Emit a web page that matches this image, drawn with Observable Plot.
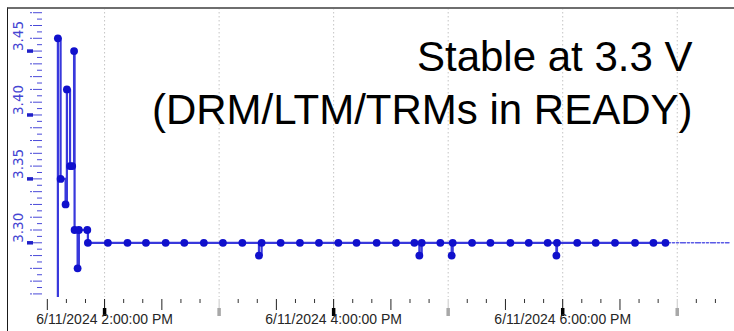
<!DOCTYPE html>
<html>
<head>
<meta charset="utf-8">
<script src="https://cdn.jsdelivr.net/npm/d3@7"></script>
<script src="https://cdn.jsdelivr.net/npm/@observablehq/plot@0.6"></script>
<style>
  html, body { margin: 0; padding: 0; background: #fff; }
  #wrap { position: relative; width: 734px; height: 331px; overflow: hidden; }
  #border { position: absolute; left: 6.5px; top: 7px; width: 740px; height: 340px;
            border-top: 2px solid #6e6e6e; border-left: 1.5px solid #1a1a1a; pointer-events: none; }
</style>
</head>
<body>
<div id="wrap"><div id="chart"></div><div id="border"></div></div>
<script>
// ---- data ----
const times = [
  "13:35:32", "13:35:32", "13:36:57", "13:39:34", "13:40:15", "13:41:54", "13:43:02",
  "13:44:01", "13:44:17", "13:45:52", "13:46:32", "13:50:56", "13:51:15",
  "14:01:44", "14:12:00", "14:21:40", "14:32:00", "14:41:46", "14:52:00", "15:02:00",
  "15:12:10", "15:20:52", "15:22:16", "15:32:14", "15:42:20", "15:52:18", "16:02:28",
  "16:12:00", "16:22:32", "16:32:40", "16:42:18", "16:44:54", "16:46:08", "16:55:54",
  "17:01:50", "17:02:22", "17:12:30", "17:22:08", "17:32:36", "17:42:12", "17:52:08",
  "17:56:42", "17:57:00", "18:07:36", "18:17:18", "18:27:24", "18:37:54", "18:47:32",
  "18:53:50"
];
const volts = [
  0.00, 3.46, 3.35, 3.33, 3.42, 3.36, 3.36,
  3.45, 3.31, 3.28, 3.31, 3.31, 3.30,
  3.30, 3.30, 3.30, 3.30, 3.30, 3.30, 3.30,
  3.30, 3.29, 3.30, 3.30, 3.30, 3.30, 3.30,
  3.30, 3.30, 3.30, 3.30, 3.29, 3.30, 3.30,
  3.29, 3.30, 3.30, 3.30, 3.30, 3.30, 3.30,
  3.29, 3.30, 3.30, 3.30, 3.30, 3.30, 3.30,
  3.30
];
const extTimes = ["18:53:50", "19:27:06"];
const extVolts = [3.30, 3.30];
const yLabelTicks = [3.30, 3.35, 3.40, 3.45];
const xLabelHours = ["14:00:00", "16:00:00", "18:00:00"];
const xLabelText = ["6/11/2024 2:00:00 PM", "6/11/2024 4:00:00 PM", "6/11/2024 6:00:00 PM"];
const annotation = "Stable at 3.3 V\n(DRM/LTM/TRMs in READY)";
const xDomain = ["13:28:00", "19:30:00"];
const yDomain = [3.2572, 3.4833];

// ---- helpers ----
const toDate = s => { const [h, m, sec] = s.split(":").map(Number); return new Date(2024, 5, 11, h, m, sec); };
const series = times.map((t, i) => ({t: toDate(t), v: volts[i]}));
const dotsData = series.filter(d => d.v > yDomain[0]);
const ext = extTimes.map((t, i) => ({t: toDate(t), v: extVolts[i]}));
const x0 = toDate(xDomain[0]), x1 = toDate(xDomain[1]);
const allTicks = d3.timeMinute.every(10).range(toDate("13:30:00"), x1);
const tenMin = allTicks.filter(d => d.getMinutes() % 30 !== 0);
const halfHour = allTicks.filter(d => d.getMinutes() === 30);
const evenHours = allTicks.filter(d => d.getMinutes() === 0 && d.getHours() % 2 === 0);
const oddHours = allTicks.filter(d => d.getMinutes() === 0 && d.getHours() % 2 === 1);
const hours = allTicks.filter(d => d.getMinutes() === 0);
const yAll = d3.range(0, 45).map(i => +(3.26 + i * 0.005).toFixed(3)).filter(v => v <= yDomain[1]);
const yFine = yAll.filter(v => Math.round(v * 1000) % 10 !== 0);
const yHund = yAll.filter(v => Math.round(v * 1000) % 10 === 0 && Math.round(v * 1000) % 50 !== 0);
const yMajor = yAll.filter(v => Math.round(v * 1000) % 50 === 0);
const labels = xLabelHours.map((h, i) => ({t: toDate(h), s: xLabelText[i]}));

const tickBlue = "#4a4ad8";
const ax = (data, o) => Plot.axisX(data, {anchor: "bottom", fill: "none", label: null, tickFormat: null, ...o});
const ay = (data, o) => Plot.axisY(data, {anchor: "left", fill: "none", label: null, stroke: tickBlue, ...o});

const chart = Plot.plot({
  width: 734, height: 331,
  marginLeft: 43, marginRight: 0, marginTop: 8, marginBottom: 34,
  style: {background: "transparent", overflow: "visible"},
  x: {type: "time", domain: [x0, x1], axis: null},
  y: {domain: yDomain, axis: null},
  marks: [
    Plot.ruleX(hours, {x: d => d, stroke: "#c4c4c4", strokeDasharray: "1.5,2.5", strokeWidth: 1}),
    // y ticks
    ay(yFine, {tickSize: 5, dx: -1}),
    ay(yHund, {tickSize: 9, dx: -1}),
    ay(yHund, {tickSize: 2, dx: -11}),
    ay(yMajor, {tickSize: 9, dx: -1}),
    ay(yMajor, {tickSize: 6, dx: -10, strokeWidth: 3.5, stroke: "#2020c8"}),
    Plot.text(yLabelTicks, {y: d => d, text: d => d.toFixed(2), frameAnchor: "left", dx: -25,
      rotate: -90, fill: "#4545d2", fontSize: 13.5, fontFamily: "DejaVu Sans"}),
    // x ticks
    ax(tenMin, {tickSize: 4, dy: 2, stroke: "#333"}),
    ax(halfHour, {tickSize: 11, dy: 2, stroke: "#222"}),
    ax(evenHours, {tickSize: 9, dy: 2, stroke: "#111"}),
    ax(evenHours, {tickSize: 8, dy: 11, stroke: "#000", strokeWidth: 3.5}),
    ax(oddHours, {tickSize: 9, dy: 2, stroke: "#c8c8c8"}),
    ax(oddHours, {tickSize: 8, dy: 11, stroke: "#a8a8a8", strokeWidth: 3.5}),
    Plot.text(labels, {x: "t", text: "s", frameAnchor: "bottom", dy: 26.5, fill: "#262626",
      fontSize: 14, fontFamily: "Liberation Sans, Arial, sans-serif"}),
    // data
    Plot.line(ext, {x: "t", y: "v", stroke: "#5a5ae6", strokeWidth: 1.5, strokeDasharray: "5,2,2,2,2,2"}),
    Plot.line(series, {x: "t", y: "v", curve: "step-after", stroke: "#3838dc", strokeWidth: 2.2, clip: true}),
    Plot.dot(dotsData, {x: "t", y: "v", r: 3.9, fill: "#1010cc", stroke: "none", clip: true}),
    // annotation
    Plot.text([annotation], {text: d => d, frameAnchor: "top-right", dx: -42, dy: 26,
      textAnchor: "end", lineAnchor: "top", lineHeight: 1.24, fontSize: 42, fill: "#000",
      fontFamily: "Liberation Sans, Arial, Helvetica, sans-serif"})
  ]
});
document.getElementById("chart").appendChild(chart);
</script>
</body>
</html>
